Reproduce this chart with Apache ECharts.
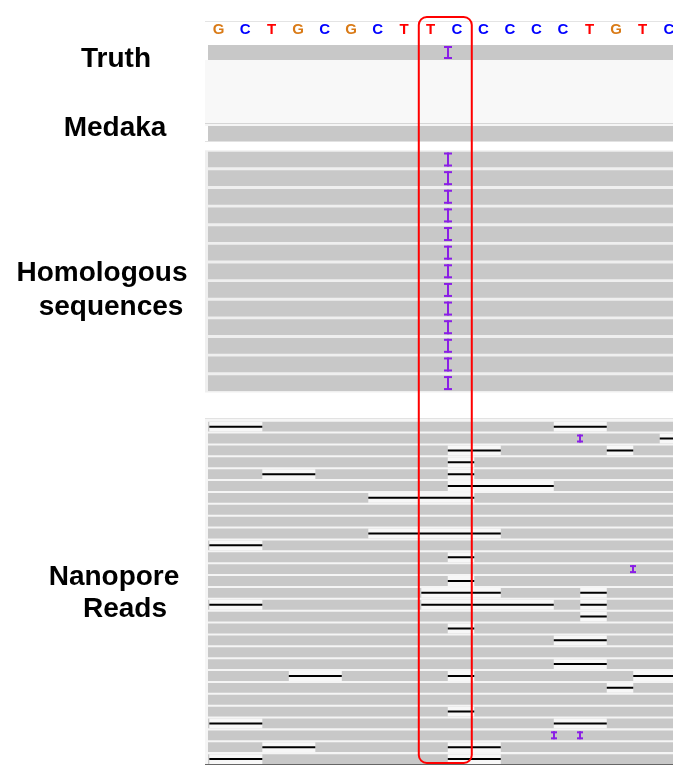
<!DOCTYPE html>
<html>
<head>
<meta charset="utf-8">
<script src="https://cdn.jsdelivr.net/npm/echarts@6/dist/echarts.min.js"></script>
<style>html,body{margin:0;padding:0;background:#fff;}#c{width:673px;height:765px;}</style>
</head>
<body>
<div id="c"></div>
<script>
// ---------------- data ----------------
const bases = ['G','C','T','G','C','G','C','T','T','C','C','C','C','C','T','G','T','C'];
const baseColors = {A:'#00b000', C:'#0000ff', G:'#d97a16', T:'#ff0000'};

const truthRows = ['Truth'];
const medakaRows = ['Medaka'];
const homologousRows = ['H1','H2','H3','H4','H5','H6','H7','H8','H9','H10','H11','H12','H13'];
const nanoporeRows = ['R1','R2','R3','R4','R5','R6','R7','R8','R9','R10','R11','R12','R13','R14','R15',
  'R16','R17','R18','R19','R20','R21','R22','R23','R24','R25','R26','R27','R28','R29'];

// read extents [row, start, end] (reads run past the view on both sides)
const truthReads = [[0,-1,19]];
const medakaReads = [[0,-1,19]];
const homologousReads = [[0,-1,19],[1,-1,19],[2,-1,19],[3,-1,19],[4,-1,19],[5,-1,19],[6,-1,19],
  [7,-1,19],[8,-1,19],[9,-1,19],[10,-1,19],[11,-1,19],[12,-1,19]];
const nanoporeReads = [[0,-1,19],[1,-1,19],[2,-1,19],[3,-1,19],[4,-1,19],[5,-1,19],[6,-1,19],[7,-1,19],
  [8,-1,19],[9,-1,19],[10,-1,19],[11,-1,19],[12,-1,19],[13,-1,19],[14,-1,19],[15,-1,19],[16,-1,19],
  [17,-1,19],[18,-1,19],[19,-1,19],[20,-1,19],[21,-1,19],[22,-1,19],[23,-1,19],[24,-1,19],[25,-1,19],
  [26,-1,19],[27,-1,19],[28,-1,19]];

// insertions [row, position]
const truthInsertions = [[0,9]];
const homologousInsertions = [[0,9],[1,9],[2,9],[3,9],[4,9],[5,9],[6,9],[7,9],[8,9],[9,9],[10,9],[11,9],[12,9]];
const nanoporeInsertions = [[1,14],[12,16],[26,13],[26,14]];

// deletions [row, start, end]
const nanoporeDeletions = [
  [0,0,2],[0,13,15],
  [1,17,19],
  [2,9,11],[2,15,16],
  [3,9,10],
  [4,2,4],[4,9,10],
  [5,9,13],
  [6,6,10],
  [9,6,11],
  [10,0,2],
  [11,9,10],
  [13,9,10],
  [14,8,11],[14,14,15],
  [15,0,2],[15,8,13],[15,14,15],
  [16,14,15],
  [17,9,10],
  [18,13,15],
  [20,13,15],
  [21,3,5],[21,9,10],[21,16,19],
  [22,15,16],
  [24,9,10],
  [25,0,2],[25,13,15],
  [27,2,4],[27,9,11],
  [28,0,2],[28,9,11]
];

const highlightRange = [8, 10];
const trackLabels = [
  {lines:['Truth'], track:'truth'},
  {lines:['Medaka'], track:'medaka'},
  {lines:['Homologous','sequences'], track:'homologous'},
  {lines:['Nanopore','Reads'], track:'nanopore'}
];

// ---------------- layout / style ----------------
const X_MIN = -0.05, X_MAX = 17.5;
const GREY = '#c8c8c8', PURPLE = '#8a1ee6';
const FONT = '"Liberation Sans", Arial, Helvetica, sans-serif';

const grids = [
  {left:208, right:0, top:21, height:18},          // 0 sequence
  {left:208, right:0, top:45, height:15},          // 1 truth
  {left:208, right:0, top:126, height:15},         // 2 medaka
  {left:208, right:0, top:150.2, height:242.2},    // 3 homologous
  {left:208, right:0, top:420.7, height:348.6}     // 4 nanopore
];
const rowSets = [['seq'], truthRows, medakaRows, homologousRows, nanoporeRows];

function readsRender(frac){
  return function(params, api){
    const row = api.value(0);
    const s = api.coord([api.value(1), row]);
    const e = api.coord([api.value(2), row]);
    const bh = api.size([0,1])[1]*frac;
    return {type:'rect', shape:{x:s[0], y:s[1]-bh/2, width:e[0]-s[0], height:bh}, style:{fill:GREY}};
  };
}
function delRender(frac, bg){
  return function(params, api){
    const row = api.value(0);
    const s = api.coord([api.value(1), row]);
    const e = api.coord([api.value(2), row]);
    const bh = api.size([0,1])[1]*frac;
    return {type:'group', children:[
      {type:'rect', shape:{x:s[0], y:s[1]-bh/2, width:e[0]-s[0], height:bh}, style:{fill:bg}},
      {type:'rect', shape:{x:s[0], y:s[1]-1, width:e[0]-s[0], height:2}, style:{fill:'#000'}}
    ]};
  };
}
function insRender(w, h){
  return function(params, api){
    const c = api.coord([api.value(1), api.value(0)]);
    const x = Math.round(c[0]), y = c[1];
    return {type:'group', children:[
      {type:'rect', shape:{x:x-1, y:y-h/2, width:2, height:h}, style:{fill:PURPLE}},
      {type:'rect', shape:{x:x-w/2, y:y-h/2, width:w, height:2}, style:{fill:PURPLE}},
      {type:'rect', shape:{x:x-w/2, y:y+h/2-2, width:w, height:2}, style:{fill:PURPLE}}
    ]};
  };
}

const chart = echarts.init(document.getElementById('c'), null, {renderer:'canvas'});
const option = {
  animation:false,
  backgroundColor:'#fff',
  grid: grids.map(g => Object.assign({containLabel:false}, g)),
  xAxis: grids.map((g,i) => ({type:'value', gridIndex:i, min:X_MIN, max:X_MAX, show:false})),
  yAxis: grids.map((g,i) => ({type:'category', gridIndex:i, data:rowSets[i], inverse:true, show:false})),
  series: [
    {type:'custom', xAxisIndex:0, yAxisIndex:0, clip:true,
     data: bases.map((b,i) => [i+0.5, 0, b]),
     renderItem:(params, api) => {
       const c = api.coord([api.value(0), 0]);
       const b = bases[params.dataIndex];
       return {type:'text', x:c[0]-4, y:c[1], style:{text:b, fill:baseColors[b], font:'bold 15px '+FONT, align:'center', verticalAlign:'middle'}};
     }},
    {type:'custom', xAxisIndex:1, yAxisIndex:1, clip:true, data:truthReads, renderItem:readsRender(1)},
    {type:'custom', xAxisIndex:1, yAxisIndex:1, clip:false, data:truthInsertions, renderItem:insRender(8,13)},
    {type:'custom', xAxisIndex:2, yAxisIndex:2, clip:true, data:medakaReads, renderItem:readsRender(1)},
    {type:'custom', xAxisIndex:3, yAxisIndex:3, clip:true, data:homologousReads, renderItem:readsRender(0.843)},
    {type:'custom', xAxisIndex:3, yAxisIndex:3, clip:false, data:homologousInsertions, renderItem:insRender(8,14)},
    {type:'custom', xAxisIndex:4, yAxisIndex:4, clip:true, data:nanoporeReads, renderItem:readsRender(0.83)},
    {type:'custom', xAxisIndex:4, yAxisIndex:4, clip:true, data:nanoporeDeletions, renderItem:delRender(0.83,'#f7f7f7')},
    {type:'custom', xAxisIndex:4, yAxisIndex:4, clip:false, data:nanoporeInsertions, renderItem:insRender(6,8)}
  ]
};
chart.setOption(option);

// decorations and labels
const graphics = [
  {type:'line', z:-1, shape:{x1:205, y1:21.5, x2:673, y2:21.5}, style:{stroke:'#e4e4e4', lineWidth:1}},
  {type:'rect', z:-1, shape:{x:205, y:60, width:468, height:63}, style:{fill:'#f8f8f8'}},
  {type:'line', z:-1, shape:{x1:205, y1:123.5, x2:673, y2:123.5}, style:{stroke:'#d6d6d6', lineWidth:1}},
  {type:'line', z:-1, shape:{x1:205, y1:125, x2:673, y2:125}, style:{stroke:'#ececec', lineWidth:1}},
  {type:'line', z:-1, shape:{x1:205, y1:141.5, x2:673, y2:141.5}, style:{stroke:'#e2e2e2', lineWidth:1}},
  {type:'rect', z:-1, shape:{x:205, y:150.2, width:468, height:242.2}, style:{fill:'#efefef'}},
  {type:'line', z:-1, shape:{x1:205, y1:418.5, x2:673, y2:418.5}, style:{stroke:'#e2e2e2', lineWidth:1}},
  {type:'rect', z:-1, shape:{x:205, y:419, width:468, height:346}, style:{fill:'#f5f5f5'}},
  {type:'line', z:10, shape:{x1:205, y1:764.5, x2:673, y2:764.5}, style:{stroke:'#666', lineWidth:1}}
];
const labelPos = {truth:[[116,59]], medaka:[[115,128]], homologous:[[102,273],[111,307]], nanopore:[[114,577],[125,609]]};
trackLabels.forEach(t => {
  t.lines.forEach((line, j) => {
    const p = labelPos[t.track][j];
    graphics.push({type:'text', x:p[0], y:p[1], style:{text:line, fill:'#000', font:'bold 28px '+FONT, align:'center', verticalAlign:'middle'}});
  });
});
const hx0 = chart.convertToPixel({xAxisIndex:4}, highlightRange[0]) - 2.5;
const hx1 = chart.convertToPixel({xAxisIndex:4}, highlightRange[1]) - 2.5;
graphics.push({type:'rect', z:20, shape:{x:hx0, y:17, width:hx1-hx0, height:746, r:8}, style:{fill:'none', stroke:'#f00', lineWidth:2}});
chart.setOption({graphic: graphics});
</script>
</body>
</html>
